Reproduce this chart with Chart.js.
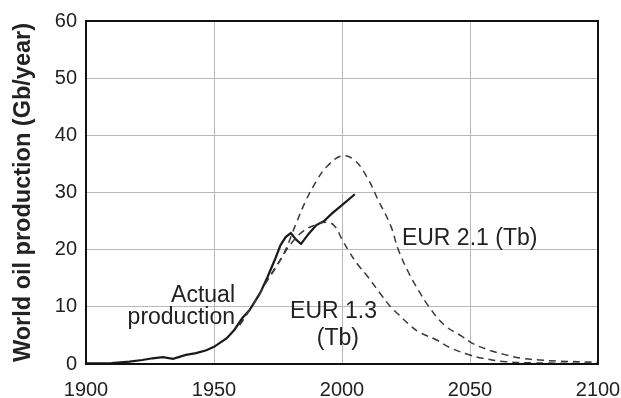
<!DOCTYPE html>
<html lang="en">
<head>
    <meta charset="UTF-8">
    <title>World oil production</title>
    <script src="https://cdn.jsdelivr.net/npm/chart.js"></script>
    <style>
        body {
            margin: 0;
            padding: 0;
            background: #fff;
        }
        #wrap {
            width: 621px;
            height: 398px;
        }
    </style>
</head>
<body>
    <div id="wrap">
        <canvas id="oilChart" width="621" height="398"></canvas>
    </div>

    <script>
        // values
        const actualYears = [1900, 1910, 1917, 1922, 1926, 1930, 1934, 1939, 1943, 1947, 1950, 1955, 1958, 1961, 1964, 1968, 1971, 1974, 1976, 1978, 1980, 1982, 1984, 1987, 1990, 1993, 1996, 2000, 2005];
        const actualValues = [0.1, 0.15, 0.4, 0.7, 1.0, 1.2, 0.9, 1.6, 1.9, 2.4, 3.0, 4.5, 6.0, 8.0, 9.5, 12.4, 15.3, 18.5, 20.8, 22.2, 22.9, 21.8, 21.0, 22.8, 24.3, 25.0, 26.3, 27.8, 29.7];

        const eur21Years = [1960, 1965, 1970, 1975, 1978, 1982, 1986, 1990, 1994, 2000, 2005, 2010, 2014, 2019, 2022, 2026, 2030, 2034, 2040, 2047, 2051, 2057, 2064, 2070, 2077, 2085, 2100];
        const eur21Values = [6.8, 10.2, 14.0, 17.5, 20.0, 24.5, 28.7, 32.0, 34.5, 36.4, 35.6, 32.5, 28.8, 24.2, 20.0, 16.0, 12.8, 10.0, 6.8, 4.8, 3.6, 2.5, 1.6, 1.0, 0.7, 0.5, 0.3];

        const eur13Years = [1960, 1965, 1970, 1975, 1980, 1985, 1990, 1994, 1997, 2000, 2003, 2006, 2010, 2015, 2019, 2022, 2026, 2030, 2037, 2042, 2049, 2055, 2064, 2075, 2100];
        const eur13Values = [6.8, 10.2, 14.0, 17.6, 21.0, 23.3, 24.4, 24.8, 24.2, 21.8, 19.5, 17.5, 15.3, 12.3, 10.0, 8.7, 7.0, 5.6, 4.2, 2.9, 1.7, 1.0, 0.4, 0.2, 0.1];

        const xTicks = [1900, 1950, 2000, 2050, 2100];
        const yTicks = [0, 10, 20, 30, 40, 50, 60];

        const FONT = '"Liberation Sans", Arial, Helvetica, sans-serif';

        // curve labels, placed in data units
        const notes = [
            { text: 'Actual', x: 1958.2, y: 10.8, align: 'right' },
            { text: 'production', x: 1958.2, y: 7.0, align: 'right' },
            { text: 'EUR 2.1 (Tb)', x: 2023.4, y: 20.8, align: 'left' },
            { text: 'EUR 1.3', x: 1996.7, y: 8.0, align: 'center' },
            { text: '(Tb)', x: 1998.4, y: 3.3, align: 'center' }
        ];

        function toPoints(xs, ys) {
            return xs.map((x, i) => ({ x: x, y: ys[i] }));
        }

        const framePlugin = {
            id: 'frame',
            afterDatasetsDraw(chart) {
                const { ctx, chartArea: a } = chart;
                ctx.save();
                ctx.strokeStyle = '#111';
                ctx.lineWidth = 2;
                ctx.strokeRect(a.left, a.top, a.right - a.left, a.bottom - a.top);
                ctx.restore();
            }
        };

        const notesPlugin = {
            id: 'notes',
            afterDatasetsDraw(chart) {
                const ctx = chart.ctx;
                const xs = chart.scales.x, ys = chart.scales.y;
                ctx.save();
                ctx.fillStyle = '#222';
                ctx.font = '23px ' + FONT;
                ctx.textBaseline = 'alphabetic';
                notes.forEach(n => {
                    ctx.textAlign = n.align;
                    ctx.fillText(n.text, xs.getPixelForValue(n.x), ys.getPixelForValue(n.y));
                });
                ctx.restore();
            }
        };

        const dashed = {
            borderColor: '#3a3a3a',
            borderWidth: 1.5,
            borderDash: [7, 5],
            pointRadius: 0,
            tension: 0.4,
            fill: false
        };

        const ctx = document.getElementById('oilChart').getContext('2d');
        new Chart(ctx, {
            type: 'line',
            data: {
                datasets: [
                    Object.assign({ label: 'EUR 2.1 (Tb)', data: toPoints(eur21Years, eur21Values) }, dashed),
                    Object.assign({ label: 'EUR 1.3 (Tb)', data: toPoints(eur13Years, eur13Values) }, dashed),
                    {
                        label: 'Actual production',
                        data: toPoints(actualYears, actualValues),
                        borderColor: '#1a1a1a',
                        borderWidth: 2.2,
                        pointRadius: 0,
                        tension: 0,
                        fill: false
                    }
                ]
            },
            options: {
                responsive: false,
                animation: false,
                layout: {
                    padding: { top: 21, right: 23, left: 0, bottom: 0 }
                },
                plugins: {
                    legend: { display: false },
                    tooltip: { enabled: false }
                },
                scales: {
                    x: {
                        type: 'linear',
                        min: 1900,
                        max: 2100,
                        afterBuildTicks: s => { s.ticks = xTicks.map(v => ({ value: v })); },
                        afterFit: s => {
                            s.height = 34;
                            s.paddingLeft = 0;
                            s.paddingRight = 0;
                        },
                        grid: { color: '#b8b8b8', lineWidth: 1, drawTicks: false },
                        border: { display: false },
                        ticks: {
                            padding: 14,
                            color: '#222',
                            font: { family: FONT, size: 20 },
                            callback: v => String(v)
                        }
                    },
                    y: {
                        min: 0,
                        max: 60,
                        afterBuildTicks: s => { s.ticks = yTicks.map(v => ({ value: v })); },
                        afterFit: s => {
                            s.width = 86;
                            s.paddingTop = 0;
                            s.paddingBottom = 0;
                        },
                        grid: { color: '#b8b8b8', lineWidth: 1, drawTicks: false },
                        border: { display: false },
                        title: {
                            display: true,
                            text: 'World oil production (Gb/year)',
                            color: '#222',
                            padding: { top: 9, bottom: 0 },
                            font: { family: FONT, size: 23.5, weight: 'bold' }
                        },
                        ticks: {
                            padding: 9,
                            color: '#222',
                            font: { family: FONT, size: 20 },
                            callback: v => String(v)
                        }
                    }
                }
            },
            plugins: [framePlugin, notesPlugin]
        });
    </script>
</body>
</html>
